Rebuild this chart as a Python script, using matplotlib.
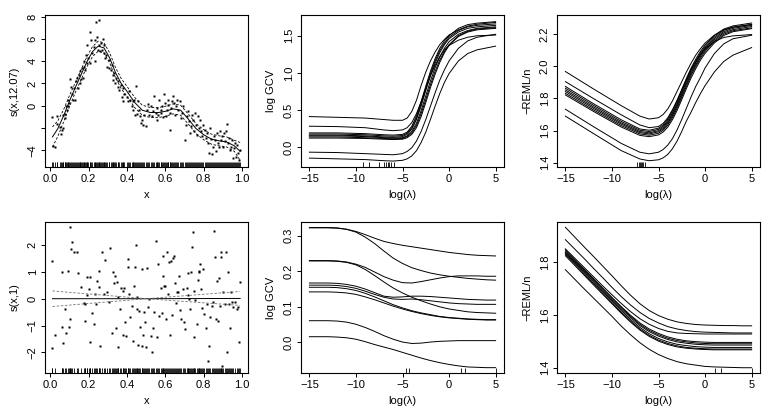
import matplotlib
matplotlib.use("Agg")
import matplotlib.pyplot as plt
import numpy as np

plt.rcParams['font.family'] = ['Liberation Sans', 'DejaVu Sans']
plt.rcParams['font.size'] = 8

# ---------------- data: top-left (smooth function) ----------------
tl_x = [0.012,0.017,0.023,0.035,0.038,0.049,0.056,0.061,0.066,0.069,0.075,0.078,0.083,0.087,0.092,0.095,0.1,
        0.104,0.108,0.113,0.118,0.125,0.128,0.132,0.139,0.144,0.149,0.153,0.156,0.161,0.167,0.170,0.174,0.177,0.182,0.188,0.191,0.194,0.198,0.205,0.212,0.208,0.217,0.226,0.231,0.234,0.24,0.243,0.248,0.253,0.255,0.26,0.266,0.271,0.274,0.278,0.281,
        0.286,0.292,0.295,0.304,0.309,0.316,0.321,0.326,0.33,0.335,0.34,0.345,0.351,0.356,0.361,0.368,0.373,0.378,0.382,0.387,
        0.4,0.405,0.41,0.417,0.425,0.43,0.434,0.439,0.443,0.448,0.451,0.457,0.462,0.469,0.474,0.479,0.486,0.491,0.497,
        0.503,0.512,0.517,0.524,0.53,0.535,0.542,0.549,0.556,0.559,0.564,0.569,0.575,0.58,0.585,0.59,0.594,0.599,
        0.604,0.608,0.613,0.616,0.622,0.627,0.632,0.637,0.642,0.646,0.651,0.656,0.66,0.668,0.677,0.682,0.688,0.694,
        0.703,0.707,0.712,0.717,0.722,0.727,0.733,0.738,0.743,0.748,0.755,0.76,0.766,0.771,0.776,0.781,0.786,0.792,0.797,
        0.806,0.811,0.816,0.821,0.826,0.832,0.837,0.842,0.847,0.852,0.858,0.863,0.868,0.873,0.878,0.884,0.889,0.894,
        0.899,0.905,0.91,0.915,0.92,0.925,0.93,0.936,0.941,0.946,0.951,0.957,0.962,0.967,0.972,0.977,0.983,0.988]
tl_y = [-1.0,-3.6,-3.7,-1.6,-0.9,-1.9,-2.5,-2.2,-0.8,-2.0,-1.1,-0.7,-0.06,-0.4,0.0,0.5,0.24,
        2.4,1.7,1.1,0.5,1.6,0.5,2.2,2.5,1.6,2.8,2.0,3.1,2.4,3.4,2.5,3.5,4.0,3.2,4.6,3.8,5.5,4.3,6.6,5.9,3.8,4.7,5.3,4.0,5.9,7.5,6.2,5.0,5.5,7.7,4.9,5.6,5.0,6.0,4.7,5.5,
        4.3,4.6,3.5,4.1,3.4,3.2,3.7,2.8,2.3,2.9,2.0,2.5,1.7,2.2,1.4,1.9,0.8,1.6,0.4,1.1,
        0.8,0.4,1.3,0.5,-0.06,0.4,-0.36,0.54,-0.8,1.8,-0.7,0.4,-0.36,-0.96,-1.56,-1.26,-1.7,-0.8,-1.86,
        -0.36,0.18,-0.8,-0.06,-0.96,-0.5,0.84,-0.66,-0.2,-1.26,-0.8,0.54,-0.36,-0.66,-0.06,-1.0,1.05,0.24,
        -0.96,-0.36,0.1,0.54,-0.66,-2.16,-0.2,0.4,0.84,0.24,-0.8,-0.06,0.54,-0.36,0.45,-1.1,-0.66,-0.06,
        -3.06,-1.7,-0.96,-0.5,-1.4,-2.46,-1.86,-0.8,-1.26,-2.3,-0.66,-1.7,-2.6,-0.96,-2.0,-1.26,-2.3,-2.76,-1.7,
        -2.16,-2.9,-2.46,-3.36,-4.2,-2.0,-3.0,-4.3,-3.66,-2.76,-3.06,-4.1,-2.46,-3.36,-3.66,-2.3,-3.06,-2.76,
        -3.66,-2.46,-3.2,-2.3,-1.6,-3.36,-2.9,-3.96,-3.66,-3.06,-4.7,-3.8,-3.36,-4.56,-3.5,-4.26,-4.86,-3.96]

tl_gx = [0.012,0.04,0.07,0.1,0.13,0.16,0.19,0.22,0.25,0.28,0.31,0.34,0.37,0.4,0.44,0.48,0.52,0.56,0.6,0.64,0.68,0.72,0.76,0.8,0.84,0.88,0.92,0.96,0.99]
tl_fit = [-2.8,-2.05,-0.9,0.4,1.6,2.75,3.9,4.85,5.35,5.2,4.3,3.0,2.0,1.3,0.3,-0.4,-0.6,-0.62,-0.5,-0.28,-0.4,-1.2,-2.05,-2.6,-3.0,-3.15,-3.25,-3.6,-4.1]
tl_up = [-1.9,-1.35,-0.35,0.9,2.05,3.2,4.35,5.3,5.8,5.65,4.75,3.45,2.45,1.75,0.75,0.05,-0.15,-0.17,-0.05,0.17,0.05,-0.75,-1.6,-2.15,-2.55,-2.7,-2.8,-3.1,-3.3]
tl_lo = [-3.7,-2.75,-1.45,-0.1,1.15,2.3,3.45,4.4,4.9,4.75,3.85,2.55,1.55,0.85,-0.15,-0.85,-1.05,-1.07,-0.95,-0.73,-0.85,-1.65,-2.5,-3.05,-3.45,-3.6,-3.7,-4.1,-4.9]

# ---------------- data: bottom-left (null function) ----------------
bl_pts = [(0.012,1.42),(0.012,-1.85),(0.026,-1.34),(0.061,0.98),(0.064,-1.07),(0.069,-1.66),(0.075,-0.39),(0.082,-1.29),(0.095,1.02),(0.099,-1.07),(0.101,-0.76),(0.104,2.68),(0.108,1.85),(0.116,2.12),(0.125,1.73),(0.142,1.76),(0.144,0.94),(0.161,0.45),(0.174,-0.17),(0.179,-0.2),(0.182,-0.82),(0.191,0.14),(0.194,0.8),(0.2,0.36),(0.205,-1.6),(0.208,0.8),(0.217,-0.53),(0.226,-0.94),(0.234,0.17),(0.24,-0.2),(0.243,0.67),(0.252,0.42),(0.257,1.04),(0.26,-1.75),(0.269,1.75),(0.278,0.17),(0.286,1.44),(0.295,0.24),(0.304,-0.11),(0.312,1.88),(0.321,-1.28),(0.326,1.0),(0.333,0.58),(0.339,0.86),(0.344,-1.09),(0.347,0.61),(0.351,-1.79),(0.356,0.05),(0.365,-0.39),(0.37,0.39),(0.377,0.3),(0.382,-1.34),(0.385,0.39),(0.391,-0.88),(0.396,-1.38),(0.405,1.48),(0.408,1.19),(0.413,0.17),(0.418,-0.7),(0.425,-0.26),(0.434,-1.57),(0.439,0.46),(0.443,1.17),(0.448,2.02),(0.451,0.05),(0.455,-0.39),(0.46,-1.73),(0.465,-0.45),(0.469,-1.04),(0.476,1.11),(0.479,-1.78),(0.483,-1.35),(0.49,-0.51),(0.493,-0.88),(0.498,-1.79),(0.503,1.14),(0.509,-0.3),(0.516,-0.01),(0.524,-1.38),(0.53,-1.98),(0.538,-1.11),(0.542,-0.51),(0.552,2.14),(0.557,-1.44),(0.564,1.29),(0.569,-0.63),(0.576,0.41),(0.582,-0.53),(0.587,1.6),(0.59,0.86),(0.594,0.46),(0.599,0.48),(0.604,-0.76),(0.608,1.75),(0.613,0.17),(0.618,1.36),(0.625,-1.35),(0.63,1.42),(0.635,-0.61),(0.639,1.5),(0.646,1.6),(0.649,0.58),(0.655,-0.17),(0.66,0.24),(0.665,0.26),(0.672,0.86),(0.677,-0.42),(0.684,-0.76),(0.691,0.36),(0.696,-0.86),(0.705,-1.13),(0.712,0.4),(0.717,0.94),(0.72,0.14),(0.724,-0.01),(0.729,-0.39),(0.734,1.0),(0.74,1.91),(0.745,2.5),(0.747,0.29),(0.752,-1.42),(0.757,-0.04),(0.764,-0.94),(0.769,0.7),(0.774,1.04),(0.778,0.98),(0.781,1.29),(0.786,0.36),(0.792,-0.36),(0.795,1.11),(0.804,-0.57),(0.811,-1.11),(0.816,-0.2),(0.823,-2.31),(0.828,-1.75),(0.835,-0.7),(0.842,-0.29),(0.847,-0.14),(0.852,2.53),(0.859,1.54),(0.865,-0.76),(0.868,0.67),(0.873,-0.82),(0.878,0.76),(0.885,-0.26),(0.889,1.73),(0.892,1.54),(0.896,-2.52),(0.903,0.24),(0.91,-0.2),(0.915,1.73),(0.92,-2.0),(0.925,0.98),(0.931,-0.2),(0.938,-1.09),(0.943,0.24),(0.948,-0.14),(0.955,-0.32),(0.964,-0.14),(0.972,-0.39),(0.981,-0.3),(0.986,-1.63),(0.99,0.63)]
bl_x = [p[0] for p in bl_pts]
bl_y = [p[1] for p in bl_pts]
bl_gx = [0.012, 0.5, 0.99]
bl_fit = [0.0, 0.0, 0.01]
bl_up = [0.29, 0.0, 0.27]
bl_lo = [-0.29, 0.0, -0.25]

# ---------------- data: log(lambda) curves, top row ----------------
lam_t = [-15,-12,-9,-7,-6,-5,-4.5,-4,-3.5,-3,-2.5,-2,-1.5,-1,-0.5,0,1,2,3,5]
gcv_top = [
    [0.41,0.40,0.39,0.37,0.36,0.36,0.39,0.48,0.63,0.83,1.01,1.16,1.28,1.38,1.45,1.51,1.58,1.63,1.655,1.68],
    [0.28,0.275,0.26,0.23,0.22,0.23,0.26,0.33,0.45,0.61,0.79,0.96,1.1,1.22,1.31,1.37,1.44,1.48,1.50,1.51],
    [0.19,0.19,0.18,0.165,0.16,0.17,0.20,0.28,0.42,0.61,0.82,1.02,1.19,1.33,1.43,1.5,1.6,1.65,1.67,1.69],
    [0.175,0.175,0.165,0.15,0.145,0.155,0.185,0.26,0.39,0.58,0.79,0.99,1.16,1.30,1.40,1.48,1.57,1.62,1.64,1.66],
    [0.16,0.16,0.15,0.135,0.13,0.14,0.17,0.24,0.37,0.55,0.76,0.96,1.13,1.27,1.38,1.46,1.55,1.6,1.62,1.64],
    [0.15,0.15,0.14,0.125,0.12,0.125,0.15,0.21,0.32,0.49,0.69,0.89,1.07,1.21,1.33,1.42,1.52,1.57,1.60,1.62],
    [0.135,0.135,0.125,0.115,0.11,0.115,0.14,0.19,0.29,0.45,0.64,0.84,1.02,1.17,1.29,1.38,1.5,1.56,1.59,1.61],
    [0.12,0.12,0.115,0.105,0.10,0.105,0.125,0.17,0.26,0.41,0.6,0.8,0.98,1.14,1.27,1.37,1.49,1.55,1.58,1.60],
    [-0.07,-0.075,-0.09,-0.10,-0.105,-0.09,-0.06,-0.01,0.08,0.21,0.37,0.55,0.73,0.9,1.04,1.16,1.33,1.43,1.48,1.52],
    [-0.15,-0.16,-0.17,-0.185,-0.19,-0.18,-0.16,-0.12,-0.05,0.06,0.2,0.37,0.55,0.72,0.87,0.99,1.16,1.26,1.31,1.36],
]
reml_top = [
    [1.968,1.86,1.755,1.69,1.672,1.68,1.70,1.735,1.785,1.845,1.905,1.965,2.02,2.07,2.11,2.145,2.195,2.228,2.245,2.26],
    [1.875,1.768,1.667,1.61,1.602,1.615,1.636,1.672,1.723,1.785,1.855,1.925,1.99,2.045,2.093,2.133,2.192,2.232,2.252,2.27],
    [1.864,1.758,1.657,1.602,1.594,1.607,1.627,1.662,1.712,1.773,1.843,1.913,1.978,2.033,2.083,2.123,2.183,2.224,2.244,2.262],
    [1.853,1.748,1.648,1.594,1.586,1.599,1.619,1.653,1.702,1.762,1.832,1.902,1.967,2.022,2.072,2.113,2.174,2.216,2.237,2.255],
    [1.843,1.739,1.64,1.587,1.579,1.592,1.611,1.644,1.692,1.752,1.82,1.89,1.955,2.011,2.062,2.103,2.165,2.208,2.229,2.248],
    [1.832,1.729,1.631,1.579,1.571,1.583,1.602,1.634,1.681,1.74,1.808,1.877,1.943,2.0,2.051,2.093,2.156,2.2,2.222,2.24],
    [1.822,1.72,1.622,1.57,1.562,1.573,1.591,1.622,1.668,1.726,1.793,1.862,1.928,1.986,2.038,2.081,2.146,2.192,2.216,2.235],
    [1.905,1.80,1.698,1.635,1.618,1.625,1.645,1.68,1.73,1.79,1.855,1.92,1.98,2.03,2.075,2.11,2.155,2.18,2.19,2.198],
    [1.733,1.625,1.52,1.465,1.455,1.465,1.482,1.51,1.55,1.605,1.67,1.74,1.81,1.875,1.93,1.99,2.08,2.14,2.172,2.194],
    [1.69,1.582,1.475,1.423,1.412,1.418,1.43,1.452,1.487,1.535,1.595,1.66,1.715,1.775,1.83,1.88,1.965,2.03,2.07,2.117],
]
gcv_top_rug = [-9.22,-8.57,-7.49,-6.95,-6.77,-6.59,-6.41,-6.23,-5.94]
reml_top_rug = [-7.31,-7.13,-6.95,-6.84,-6.73,-6.62,-6.48]

# ---------------- data: log(lambda) curves, bottom row ----------------
lam_b = [-15,-13,-12,-11,-10,-9,-8,-7,-6,-5,-4,-3,-2,-1,0,1,2,3,4,5]
gcv_bot = [
    [0.322,0.322,0.321,0.318,0.312,0.303,0.293,0.284,0.278,0.273,0.269,0.265,0.261,0.257,0.253,0.250,0.247,0.245,0.244,0.243],
    [0.323,0.323,0.322,0.318,0.310,0.296,0.278,0.257,0.237,0.222,0.210,0.202,0.195,0.190,0.186,0.183,0.180,0.178,0.176,0.175],
    [0.230,0.230,0.229,0.226,0.220,0.211,0.198,0.185,0.175,0.168,0.167,0.171,0.176,0.181,0.185,0.187,0.187,0.187,0.186,0.186],
    [0.229,0.229,0.228,0.225,0.218,0.205,0.188,0.170,0.153,0.139,0.127,0.117,0.108,0.100,0.094,0.090,0.086,0.084,0.083,0.082],
    [0.167,0.167,0.166,0.163,0.158,0.150,0.140,0.130,0.127,0.128,0.130,0.130,0.129,0.127,0.125,0.123,0.121,0.120,0.119,0.119],
    [0.161,0.161,0.160,0.157,0.152,0.144,0.135,0.127,0.122,0.121,0.122,0.120,0.117,0.114,0.111,0.109,0.108,0.107,0.107,0.107],
    [0.155,0.155,0.154,0.151,0.146,0.138,0.128,0.117,0.106,0.097,0.089,0.083,0.078,0.073,0.070,0.068,0.066,0.065,0.064,0.064],
    [0.142,0.142,0.141,0.139,0.135,0.128,0.120,0.111,0.102,0.094,0.087,0.081,0.076,0.072,0.069,0.067,0.065,0.064,0.063,0.063],
    [0.061,0.061,0.060,0.057,0.051,0.042,0.031,0.019,0.009,0.001,-0.003,-0.002,0.001,0.003,0.004,0.005,0.005,0.005,0.005,0.005],
    [0.016,0.016,0.015,0.013,0.009,0.002,-0.006,-0.013,-0.020,-0.028,-0.036,-0.044,-0.051,-0.057,-0.062,-0.066,-0.069,-0.070,-0.071,-0.071],
]
reml_bot = [
    [1.933,1.859,1.823,1.786,1.749,1.711,1.675,1.643,1.617,1.598,1.584,1.574,1.568,1.564,1.562,1.561,1.56,1.56,1.559,1.559],
    [1.886,1.815,1.778,1.742,1.705,1.67,1.638,1.61,1.587,1.57,1.556,1.547,1.541,1.537,1.535,1.534,1.533,1.532,1.532,1.532],
    [1.851,1.781,1.746,1.711,1.677,1.644,1.613,1.586,1.565,1.549,1.538,1.532,1.53,1.529,1.528,1.528,1.528,1.528,1.528,1.528],
    [1.847,1.775,1.739,1.703,1.667,1.632,1.599,1.57,1.547,1.53,1.517,1.508,1.502,1.499,1.497,1.496,1.496,1.496,1.496,1.496],
    [1.843,1.771,1.735,1.699,1.663,1.628,1.595,1.565,1.542,1.525,1.512,1.503,1.498,1.494,1.492,1.491,1.491,1.491,1.491,1.491],
    [1.838,1.766,1.73,1.694,1.658,1.623,1.59,1.56,1.537,1.52,1.507,1.498,1.493,1.489,1.487,1.486,1.486,1.486,1.486,1.486],
    [1.835,1.762,1.726,1.689,1.653,1.617,1.583,1.553,1.529,1.511,1.498,1.489,1.484,1.48,1.478,1.477,1.477,1.477,1.477,1.477],
    [1.83,1.757,1.72,1.683,1.647,1.611,1.577,1.547,1.523,1.505,1.492,1.483,1.477,1.474,1.472,1.471,1.471,1.471,1.471,1.471],
    [1.825,1.752,1.715,1.679,1.643,1.607,1.573,1.543,1.519,1.501,1.488,1.479,1.474,1.471,1.469,1.468,1.468,1.468,1.468,1.468],
    [1.772,1.70,1.665,1.63,1.595,1.558,1.525,1.495,1.47,1.45,1.435,1.423,1.415,1.41,1.405,1.403,1.402,1.401,1.40,1.40],
]
gcv_bot_rug = [-4.67,-4.31,1.25,1.71,5.0]
reml_bot_rug = [1.07,1.71,5.0]

# ---------------- layout ----------------
W, H = 768, 418
fig = plt.figure(figsize=(W/100, H/100), dpi=100)
lefts = [45, 301, 557]
axw = 203
rows = [(15, 167), (222, 373)]
FS = 8

def make_ax(col, row):
    l = lefts[col]; t, b = rows[row]
    ax = fig.add_axes([l/W, 1-b/H, axw/W, (b-t)/H])
    for s in ax.spines.values():
        s.set_linewidth(0.8)
    ax.tick_params(axis='both', direction='out', length=3.2, width=0.7, pad=1.8, labelsize=FS)
    ax.tick_params(axis='y', pad=2.0)
    return ax

def finish(ax, xlabel, ylabel, row):
    t, b = rows[row]
    h = b - t
    ax.set_xlabel(xlabel, fontsize=FS)
    ax.set_ylabel(ylabel, fontsize=FS)
    ax.xaxis.set_label_coords(0.5, -23.5/h)
    ax.yaxis.set_label_coords(-25.0/axw, 0.5)
    plt.setp(ax.get_yticklabels(), rotation=90, va='center')

def rug(ax, vals, frac):
    ax.vlines(vals, 0, frac, transform=ax.get_xaxis_transform(), color='k', lw=0.6)

lw = 0.7

# top-left
ax = make_ax(0, 0)
ax.plot(tl_x, tl_y, 's', ms=1.5, color='k', mec='none')
ax.plot(tl_gx, tl_fit, color='k', lw=lw)
ax.plot(tl_gx, tl_up, color='k', lw=0.6, ls=(0, (3, 2)))
ax.plot(tl_gx, tl_lo, color='k', lw=0.6, ls=(0, (3, 2)))
rug(ax, tl_x, 0.03)
ax.set_xlim(-0.027, 1.031)
ax.set_ylim(-5.5, 8.15)
ax.set_xticks([0.0, 0.2, 0.4, 0.6, 0.8, 1.0])
ax.set_xticklabels(['0.0', '0.2', '0.4', '0.6', '0.8', '1.0'])
ax.set_yticks([-4, -2, 0, 2, 4, 6, 8])
ax.set_yticklabels(['\u22124', '', '0', '2', '4', '6', '8'])
finish(ax, 'x', 's(x,12.07)', 0)

# top-middle
ax = make_ax(1, 0)
for c in gcv_top:
    ax.plot(lam_t, c, color='k', lw=lw)
rug(ax, gcv_top_rug, 0.03)
ax.set_xlim(-15.9, 5.9)
ax.set_ylim(-0.27, 1.78)
ax.set_xticks([-15, -10, -5, 0, 5])
ax.set_yticks([0.0, 0.5, 1.0, 1.5])
ax.set_yticklabels(['0.0', '0.5', '1.0', '1.5'])
finish(ax, 'log(\u03bb)', 'log GCV', 0)

# top-right
ax = make_ax(2, 0)
for c in reml_top:
    ax.plot(lam_t, c, color='k', lw=lw)
rug(ax, reml_top_rug, 0.03)
ax.set_xlim(-15.9, 5.9)
ax.set_ylim(1.373, 2.32)
ax.set_xticks([-15, -10, -5, 0, 5])
ax.set_yticks([1.4, 1.6, 1.8, 2.0, 2.2])
ax.set_yticklabels(['1.4', '1.6', '1.8', '2.0', '2.2'])
finish(ax, 'log(\u03bb)', '\u2212REML/n', 0)

# bottom-left
ax = make_ax(0, 1)
ax.plot(bl_x, bl_y, 's', ms=1.5, color='k', mec='none')
ax.plot(bl_gx, bl_fit, color='k', lw=lw)
ax.plot(bl_gx, bl_up, color='0.45', lw=0.6, ls=(0, (3, 2)))
ax.plot(bl_gx, bl_lo, color='0.45', lw=0.6, ls=(0, (3, 2)))
rug(ax, bl_x, 0.03)
ax.set_xlim(-0.027, 1.031)
ax.set_ylim(-2.77, 2.86)
ax.set_xticks([0.0, 0.2, 0.4, 0.6, 0.8, 1.0])
ax.set_xticklabels(['0.0', '0.2', '0.4', '0.6', '0.8', '1.0'])
ax.set_yticks([-2, -1, 0, 1, 2])
finish(ax, 'x', 's(x,1)', 1)

# bottom-middle
ax = make_ax(1, 1)
for c in gcv_bot:
    ax.plot(lam_b, c, color='k', lw=lw)
rug(ax, gcv_bot_rug, 0.03)
ax.set_xlim(-15.9, 5.9)
ax.set_ylim(-0.086, 0.3385)
ax.set_xticks([-15, -10, -5, 0, 5])
ax.set_yticks([0.0, 0.1, 0.2, 0.3])
ax.set_yticklabels(['0.0', '0.1', '0.2', '0.3'])
finish(ax, 'log(\u03bb)', 'log GCV', 1)

# bottom-right
ax = make_ax(2, 1)
for c in reml_bot:
    ax.plot(lam_b, c, color='k', lw=lw)
rug(ax, reml_bot_rug, 0.03)
ax.set_xlim(-15.9, 5.9)
ax.set_ylim(1.38, 1.953)
ax.set_xticks([-15, -10, -5, 0, 5])
ax.set_yticks([1.4, 1.6, 1.8])
ax.set_yticklabels(['1.4', '1.6', '1.8'])
finish(ax, 'log(\u03bb)', '\u2212REML/n', 1)

fig.savefig('out.png', dpi=100)
